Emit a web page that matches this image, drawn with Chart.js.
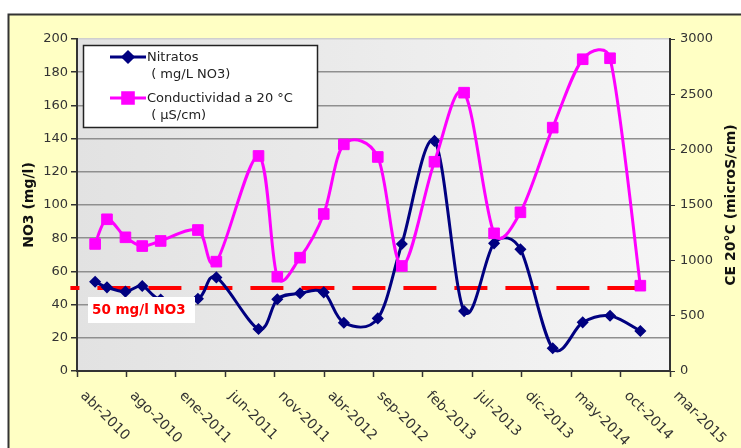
<!DOCTYPE html>
<html>
<head>
<meta charset="utf-8">
<script src="https://cdn.jsdelivr.net/npm/chart.js@4.4.0/dist/chart.umd.min.js"></script>
<style>
  html, body { margin: 0; padding: 0; background: #fff; }
  canvas { display: block; }
</style>
</head>
<body>
<canvas id="myChart" width="741" height="448"></canvas>
<script>
// Datos ===================================
var sampleDates = [
  '2010-05-26', '2010-07-01', '2010-08-26', '2010-10-16', '2010-12-11',
  '2011-04-03', '2011-05-29', '2011-10-04', '2011-11-30', '2012-02-07',
  '2012-04-19', '2012-06-19', '2012-09-30', '2012-12-12', '2013-03-21',
  '2013-06-19', '2013-09-18', '2013-12-07', '2014-03-15', '2014-06-14',
  '2014-09-05', '2014-12-06'
];
var nitratos = [
  53.8, 50.4, 47.8, 51.2, 43, 43.5, 56.4, 25.3, 43.2, 46.8, 47.4,
  29.1, 31.7, 76.5, 138.6, 36.1, 76.9, 73.3, 13.7, 29.3, 33.3, 24.1
];
var conductividad = [
  1148, 1371, 1208, 1129, 1175, 1274, 988, 1943, 852, 1024, 1419,
  2048, 1934, 949, 1891, 2515, 1244, 1434, 2199, 2817, 2826, 771
];
var xTickLabels = [
  'abr-2010', 'ago-2010', 'ene-2011', 'jun-2011', 'nov-2011', 'abr-2012', 'sep-2012',
  'feb-2013', 'jul-2013', 'dic-2013', 'may-2014', 'oct-2014', 'mar-2015'
];
var xTickStart = '2010-04-01';
var xTickStepDays = 150;

var nitratosLabel = ['Nitratos', ' ( mg/L NO3)'];
var condLabel = ['Conductividad a 20 °C', ' ( µS/cm)'];
var leftTitle = 'NO3 (mg/l)';
var rightTitle = 'CE 20°C (microS/cm)';

var limitValue = 50;
var limitFrom = '2010-03-12';
var limitTo = '2014-11-26';
var limitLabel = '50 mg/l NO3';

// helpers
function dayOf(s) {
  var p = s.split('-');
  var b = xTickStart.split('-');
  return (Date.UTC(+p[0], +p[1] - 1, +p[2]) - Date.UTC(+b[0], +b[1] - 1, +b[2])) / 86400000;
}
function toPoints(values) {
  return values.map(function (v, i) { return { x: dayOf(sampleDates[i]), y: v }; });
}

var NAVY = '#000080';
var MAGENTA = '#ff00ff';
var FONT = '"DejaVu Sans", sans-serif';

// fondo + marco amarillo
var fondo = {
  id: 'fondo',
  beforeDraw: function (chart) {
    var ctx = chart.ctx, a = chart.chartArea;
    ctx.save();
    ctx.fillStyle = '#fff';
    ctx.fillRect(0, 0, chart.width, chart.height);
    ctx.fillStyle = '#ffffc4';
    ctx.fillRect(9, 15, chart.width, chart.height);
    ctx.strokeStyle = '#333';
    ctx.lineWidth = 2;
    ctx.beginPath();
    ctx.moveTo(8.5, chart.height);
    ctx.lineTo(8.5, 14.5);
    ctx.lineTo(chart.width, 14.5);
    ctx.stroke();
    var g = ctx.createLinearGradient(a.left, 0, a.right, 0);
    g.addColorStop(0, '#e2e2e2');
    g.addColorStop(1, '#f5f5f5');
    ctx.fillStyle = g;
    ctx.fillRect(a.left, a.top, a.right - a.left, a.bottom - a.top);
    ctx.restore();
  }
};

// curva suavizada tipo Excel: puntos de control (P[i+1]-P[i-1])/6, max. media distancia del tramo
var suavizado = {
  id: 'suavizado',
  beforeDatasetDraw: function (chart, args) {
    var meta = args.meta, line = meta.dataset;
    if (!line || !line.options.tension) return;
    var p = meta.data, n = p.length;
    for (var i = 0; i < n; i++) {
      var prev = p[Math.max(i - 1, 0)], cur = p[i], next = p[Math.min(i + 1, n - 1)];
      var vx = next.x - prev.x, vy = next.y - prev.y;
      var len = Math.hypot(vx, vy) || 1;
      var dPrev = Math.hypot(cur.x - prev.x, cur.y - prev.y);
      var dNext = Math.hypot(next.x - cur.x, next.y - cur.y);
      var kIn = Math.min(len / 6, dPrev / 2) / len;
      var kOut = Math.min(len / 6, dNext / 2) / len;
      cur.cp1x = cur.x - kIn * vx;
      cur.cp1y = cur.y - kIn * vy;
      cur.cp2x = cur.x + kOut * vx;
      cur.cp2y = cur.y + kOut * vy;
    }
    line._pointsUpdated = true;
  }
};

// leyenda, etiquetas del eje x, titulos, etiqueta del limite
var extras = {
  id: 'extras',
  afterDraw: function (chart) {
    var ctx = chart.ctx, a = chart.chartArea;
    var xs = chart.scales.x, ys = chart.scales.y;
    ctx.save();

    // etiquetas x giradas
    ctx.fillStyle = '#333';
    ctx.font = '14px ' + FONT;
    ctx.textAlign = 'left';
    ctx.textBaseline = 'middle';
    xTickLabels.forEach(function (lab, i) {
      var px = xs.getPixelForValue(i * xTickStepDays);
      ctx.save();
      ctx.translate(px, a.bottom + 17);
      ctx.rotate(Math.PI / 4);
      ctx.fillText(lab, 8, 0);
      ctx.restore();
    });

    // titulos de ejes
    ctx.fillStyle = '#111';
    ctx.font = 'bold 14px ' + FONT;
    ctx.textAlign = 'center';
    var midY = (a.top + a.bottom) / 2;
    ctx.save();
    ctx.translate(29, midY);
    ctx.rotate(-Math.PI / 2);
    ctx.fillText(leftTitle, 0, 0);
    ctx.restore();
    ctx.save();
    ctx.translate(731, midY);
    ctx.rotate(-Math.PI / 2);
    ctx.fillText(rightTitle, 0, 0);
    ctx.restore();

    // etiqueta del limite
    var ly = ys.getPixelForValue(limitValue);
    ctx.fillStyle = '#fff';
    ctx.fillRect(a.left + 11, ly + 9, 107, 26);
    ctx.fillStyle = '#ff0000';
    ctx.font = 'bold 13.5px ' + FONT;
    ctx.textAlign = 'left';
    ctx.fillText(limitLabel, a.left + 15, ly + 22);

    // leyenda
    var lx = a.left + 6.5, ly0 = a.top + 6.5;
    ctx.fillStyle = '#fff';
    ctx.fillRect(lx, ly0, 234, 82);
    ctx.strokeStyle = '#222';
    ctx.lineWidth = 1.5;
    ctx.strokeRect(lx, ly0, 234, 82);

    var items = [
      { lines: nitratosLabel, color: NAVY, style: 'rectRot', r: 5, y: a.top + 18 },
      { lines: condLabel, color: MAGENTA, style: 'rect', r: 7.5, y: a.top + 59 }
    ];
    items.forEach(function (it) {
      ctx.strokeStyle = it.color;
      ctx.lineWidth = 3;
      ctx.beginPath();
      ctx.moveTo(a.left + 33, it.y);
      ctx.lineTo(a.left + 69, it.y);
      ctx.stroke();
      ctx.fillStyle = it.color;
      Chart.helpers.drawPoint(ctx, { pointStyle: it.style, radius: it.r, borderWidth: 1 }, a.left + 51, it.y);
      ctx.fill();
      ctx.fillStyle = '#222';
      ctx.font = '13px ' + FONT;
      ctx.textAlign = 'left';
      ctx.textBaseline = 'middle';
      ctx.fillText(it.lines[0], a.left + 70, it.y + 1);
      ctx.fillText(it.lines[1], a.left + 70, it.y + 18);
    });

    ctx.restore();
  }
};

var config = {
  type: 'line',
  data: {
    datasets: [
      {
        label: condLabel.join(' '),
        data: toPoints(conductividad),
        yAxisID: 'y2',
        borderColor: MAGENTA,
        backgroundColor: MAGENTA,
        borderWidth: 3,
        pointStyle: 'rect',
        pointRadius: 7.5,
        pointBorderWidth: 1,
        tension: 0.5,
        order: 1
      },
      {
        label: nitratosLabel.join(' '),
        data: toPoints(nitratos),
        yAxisID: 'y',
        borderColor: NAVY,
        backgroundColor: NAVY,
        borderWidth: 3,
        pointStyle: 'rectRot',
        pointRadius: 5,
        pointBorderWidth: 1.5,
        tension: 0.5,
        order: 2
      },
      {
        label: limitLabel,
        data: [{ x: dayOf(limitFrom), y: limitValue }, { x: dayOf(limitTo), y: limitValue }],
        yAxisID: 'y',
        borderColor: '#ff0000',
        borderWidth: 4,
        borderDash: [33, 18],
        borderDashOffset: 24,
        borderCapStyle: 'butt',
        pointRadius: 0,
        clip: false,
        order: 3
      }
    ]
  },
  options: {
    responsive: false,
    animation: false,
    devicePixelRatio: 1,
    layout: { padding: { top: 39, left: 0, right: 0, bottom: 0 } },
    plugins: {
      legend: { display: false },
      tooltip: { enabled: false }
    },
    scales: {
      x: {
        type: 'linear',
        min: 0,
        max: xTickStepDays * (xTickLabels.length - 1),
        ticks: { stepSize: xTickStepDays, display: false },
        grid: { drawOnChartArea: false, tickLength: 6, tickColor: '#333', tickWidth: 1.5 },
        border: { color: '#333', width: 2 },
        afterFit: function (s) { s.height = 77; }
      },
      y: {
        position: 'left',
        min: 0,
        max: 200,
        ticks: {
          stepSize: 20, color: '#333', padding: 3, font: { family: FONT, size: 13 },
          callback: function (v) { return String(v); }
        },
        grid: {
          color: function (c) { return c.tick.value === 200 ? '#cfcfcf' : '#8f8f8f'; },
          lineWidth: 1.5,
          tickLength: 6,
          tickColor: '#333'
        },
        border: { color: '#333', width: 2 },
        afterFit: function (s) { s.width = 77; }
      },
      y2: {
        position: 'right',
        min: 0,
        max: 3000,
        ticks: {
          stepSize: 500, color: '#333', padding: 5, font: { family: FONT, size: 13 },
          callback: function (v) { return String(v); }
        },
        grid: { drawOnChartArea: false, tickLength: 5, tickColor: '#333' },
        border: { color: '#333', width: 2 },
        afterFit: function (s) { s.width = 71; }
      }
    }
  },
  plugins: [fondo, suavizado, extras]
};

var myChart = new Chart(document.getElementById('myChart'), config);
</script>
</body>
</html>
